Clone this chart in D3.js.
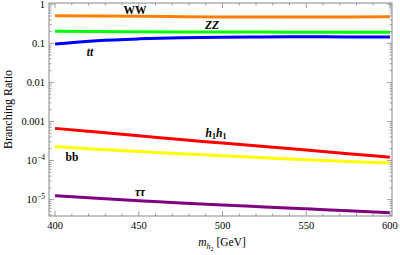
<!DOCTYPE html>
<html>
<head>
<meta charset="utf-8">
<script src="https://cdn.jsdelivr.net/npm/d3@7"></script>
<style>
  body { margin: 0; background: #fff; }
  text { font-family: "Liberation Serif", "DejaVu Serif", serif; }
</style>
</head>
<body>
<svg id="chart" width="400" height="255"></svg>
<script>
// masses in GeV
const mass = [400, 425, 450, 475, 500, 525, 550, 575, 600];

// branching ratios
const brWW   = [0.51, 0.50, 0.49, 0.48, 0.475, 0.473, 0.473, 0.475, 0.478];
const brZZ   = [0.205, 0.20, 0.198, 0.196, 0.195, 0.194, 0.193, 0.193, 0.193];
const brTT   = [0.096, 0.117, 0.13, 0.138, 0.143, 0.146, 0.147, 0.146, 0.145];
const brH1H1 = [6.65e-4, 5.35e-4, 4.3e-4, 3.45e-4, 2.8e-4, 2.27e-4, 1.85e-4, 1.5e-4, 1.21e-4];
const brBB   = [2.27e-4, 1.95e-4, 1.7e-4, 1.5e-4, 1.32e-4, 1.17e-4, 1.05e-4, 0.95e-4, 0.86e-4];
const brTau  = [1.25e-5, 1.08e-5, 9.4e-6, 8.2e-6, 7.3e-6, 6.5e-6, 5.8e-6, 5.2e-6, 4.6e-6];

const xTicks = [400, 450, 500, 550, 600];
const yTicks = [1, 0.1, 0.01, 0.001, 1e-4, 1e-5];

const series = [
  { values: brWW,   color: "#ff8000" },
  { values: brZZ,   color: "#00ff00" },
  { values: brTT,   color: "#0000ff" },
  { values: brH1H1, color: "#ff0000" },
  { values: brBB,   color: "#ffff00" },
  { values: brTau,  color: "#800080" }
];

const svg = d3.select("#chart");
const L = 49, R = 392, T = 3, B = 216;

const x = d3.scaleLinear().domain([396.4, 601.2]).range([L, R]);
const y = d3.scaleLog().domain([Math.pow(10, -5.42), Math.pow(10, 0.032)]).range([B, T]);

const frameColor = "#888";

// lines
const line = d3.line()
    .x((d, i) => x(mass[i]))
    .y(d => y(d))
    .curve(d3.curveMonotoneX);

svg.append("g").selectAll("path")
  .data(series)
  .enter().append("path")
    .attr("fill", "none")
    .attr("stroke", d => d.color)
    .attr("stroke-width", 3)
    .attr("d", d => line(d.values));

// ticks
const tickG = svg.append("g").attr("stroke", frameColor).attr("stroke-width", 0.8);
const xMinor = d3.range(400, 601, 10);
xMinor.forEach(v => {
  const major = v % 50 === 0;
  const len = major ? 5 : 2.5;
  tickG.append("line").attr("x1", x(v)).attr("x2", x(v)).attr("y1", B).attr("y2", B - len);
  tickG.append("line").attr("x1", x(v)).attr("x2", x(v)).attr("y1", T).attr("y2", T + len);
});
const yMinor = [];
for (let e = -6; e <= 0; e++) {
  for (let k = 1; k <= 9; k++) {
    const v = k * Math.pow(10, e);
    if (v >= y.domain()[0] && v <= y.domain()[1]) yMinor.push({ v: v, major: k === 1 });
  }
}
yMinor.forEach(d => {
  const len = d.major ? 5 : 2.5;
  tickG.append("line").attr("x1", L).attr("x2", L + len).attr("y1", y(d.v)).attr("y2", y(d.v));
  tickG.append("line").attr("x1", R).attr("x2", R - len).attr("y1", y(d.v)).attr("y2", y(d.v));
});

// frame
svg.append("rect")
  .attr("x", L).attr("y", T).attr("width", R - L).attr("height", B - T)
  .attr("fill", "none").attr("stroke", frameColor).attr("stroke-width", 1);

// x tick labels
svg.append("g").selectAll("text")
  .data(xTicks)
  .enter().append("text")
    .attr("x", d => x(d))
    .attr("y", B + 13)
    .attr("text-anchor", "middle")
    .attr("font-size", 10.5)
    .text(d => d);

// y tick labels
const yl = svg.append("g");
yTicks.forEach(v => {
  const t = yl.append("text")
    .attr("x", L - 4)
    .attr("y", y(v) + 3.5)
    .attr("text-anchor", "end")
    .attr("font-size", 10.5);
  if (v >= 0.001) {
    t.text(String(v));
  } else {
    const ex = Math.round(Math.log10(v));
    t.append("tspan").text("10");
    t.append("tspan").attr("dy", -4).attr("font-size", 7.5).text("\u2212" + (-ex));
  }
});

// axis titles
svg.append("text")
  .attr("transform", `translate(12,${(T + B) / 2}) rotate(-90)`)
  .attr("text-anchor", "middle")
  .attr("font-size", 12)
  .text("Branching Ratio");

const xt = svg.append("text")
  .attr("x", 222).attr("y", 246)
  .attr("text-anchor", "middle")
  .attr("font-size", 11.5);
xt.append("tspan").attr("font-style", "italic").text("m");
xt.append("tspan").attr("font-style", "italic").attr("font-size", 8).attr("dy", 3).text("h");
xt.append("tspan").attr("font-size", 6).attr("dy", 1.5).text("2");
xt.append("tspan").attr("dy", -4.5).text(" [GeV]");

// curve labels
const lab = svg.append("g").attr("font-size", 11.5).attr("font-weight", "bold");
lab.append("text").attr("x", 135).attr("y", 14).attr("text-anchor", "middle").text("WW");
lab.append("text").attr("x", 212).attr("y", 29).attr("text-anchor", "middle").attr("font-style", "italic").text("ZZ");
lab.append("text").attr("x", 90).attr("y", 56).attr("text-anchor", "middle").attr("font-style", "italic").text("tt");
const hh = lab.append("text").attr("x", 216).attr("y", 137).attr("text-anchor", "middle").attr("font-style", "italic");
hh.append("tspan").text("h");
hh.append("tspan").attr("font-size", 8).attr("dy", 2).attr("font-style", "normal").text("1");
hh.append("tspan").attr("dy", -2).text("h");
hh.append("tspan").attr("font-size", 8).attr("dy", 2).attr("font-style", "normal").text("1");
lab.append("text").attr("x", 72).attr("y", 161).attr("text-anchor", "middle").text("bb");
lab.append("text").attr("x", 140).attr("y", 196).attr("text-anchor", "middle").attr("font-style", "italic").text("\u03c4\u03c4");
</script>
</body>
</html>
